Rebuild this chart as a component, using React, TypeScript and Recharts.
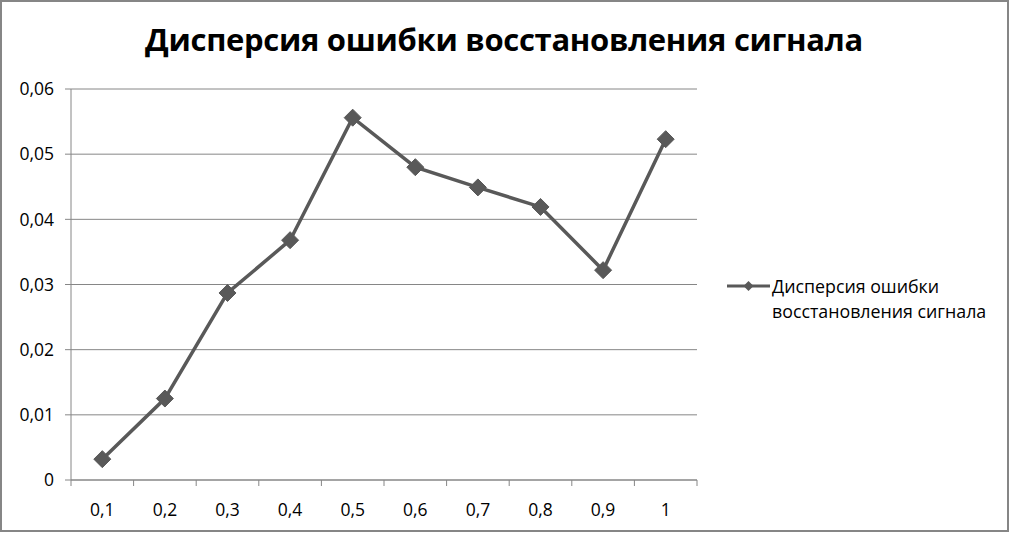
import React from "react";
import { LineChart, Line, XAxis, YAxis, CartesianGrid, Legend } from "recharts";

const categories = ["0,1", "0,2", "0,3", "0,4", "0,5", "0,6", "0,7", "0,8", "0,9", "1"];
const dispersion = [0.0032, 0.0125, 0.0287, 0.0368, 0.0556, 0.048, 0.0449, 0.0419, 0.0322, 0.0523];
const yTicks = [0, 0.01, 0.02, 0.03, 0.04, 0.05, 0.06];
const seriesName = "Дисперсия ошибки восстановления сигнала";
const titleText = "Дисперсия ошибки восстановления сигнала";
const legendLines = ["Дисперсия ошибки", "восстановления сигнала"];

const data = categories.map((c, i) => ({ cat: c, value: dispersion[i] }));

const LINE_COLOR = "#595959";
const AXIS_COLOR = "#868686";
const FONT = "'Open Sans', sans-serif";

const Diamond = (props: any) => {
  const { cx, cy } = props;
  if (cx == null || cy == null) return null;
  const r = 8.5;
  return (
    <polygon
      points={`${cx},${cy - r} ${cx + r},${cy} ${cx},${cy + r} ${cx - r},${cy}`}
      fill={LINE_COLOR}
      stroke={LINE_COLOR}
    />
  );
};

const XTick = (props: any) => {
  const { x, y, payload, index, visibleTicksCount } = props;
  const half = payload && payload.offset ? payload.offset : 31.3;
  const isLast = index === (visibleTicksCount ?? categories.length) - 1;
  const top = y - 8;
  return (
    <g>
      <line x1={x - half} y1={top} x2={x - half} y2={top + 6} stroke={AXIS_COLOR} />
      {isLast && <line x1={x + half} y1={top} x2={x + half} y2={top + 6} stroke={AXIS_COLOR} />}
      <text x={x} y={y + 28} textAnchor="middle" fill="#000" fontSize={17.5} fontFamily={FONT}>
        {payload.value}
      </text>
    </g>
  );
};

const fmtY = (v: number) => (v === 0 ? "0" : v.toFixed(2).replace(".", ","));

const LegendContent = () => (
  <div style={{ display: "flex", alignItems: "flex-start", fontFamily: FONT, fontSize: 17.8, color: "#000" }}>
    <svg width={45} height={24} style={{ flex: "none" }}>
      <line x1={0} y1={12} x2={43} y2={12} stroke={LINE_COLOR} strokeWidth={3} />
      <polygon points="21.5,7 26.5,12 21.5,17 16.5,12" fill={LINE_COLOR} />
    </svg>
    <div style={{ lineHeight: "25px", marginTop: 0, width: 240, whiteSpace: "nowrap" }}>
      {legendLines[0]}
      <br />
      {legendLines[1]}
    </div>
  </div>
);

export default function App() {
  return (
    <div
      style={{
        position: "absolute",
        left: 0,
        top: 0,
        width: 1011,
        height: 534,
        background: "#fff",
      }}
    >
      <div
        style={{
          position: "absolute",
          left: 0,
          top: 0,
          width: 1009,
          height: 532,
          border: `2px solid ${AXIS_COLOR}`,
          boxSizing: "border-box",
          pointerEvents: "none",
          zIndex: 2,
        }}
      />
      <div
        style={{
          position: "absolute",
          left: 0,
          top: 18,
          width: 1008,
          textAlign: "center",
          fontFamily: "'Open Sans', sans-serif",
          fontWeight: 700,
          fontSize: 31,
          letterSpacing: -0.3,
          color: "#000",
          zIndex: 1,
        }}
      >
        {titleText}
      </div>
      <LineChart
        width={1011}
        height={534}
        data={data}
        margin={{ top: 89, right: 314, bottom: 24, left: 0 }}
      >
        <CartesianGrid vertical={false} stroke={AXIS_COLOR} strokeWidth={1} />
        <XAxis
          dataKey="cat"
          scale="band"
          stroke={AXIS_COLOR}
          tickLine={false}
          height={30}
          tick={<XTick />}
          interval={0}
        />
        <YAxis
          width={71}
          domain={[0, 0.06]}
          ticks={yTicks}
          tickFormatter={fmtY}
          stroke={AXIS_COLOR}
          tickSize={6}
          tick={{ fill: "#000", fontSize: 17.5, fontFamily: FONT }}
          tickMargin={11}
        />
        <Legend
          layout="horizontal"
          align="center"
          verticalAlign="middle"
          content={<LegendContent />}
          wrapperStyle={{ position: "absolute", left: 727, top: 274, width: 280 }}
        />
        <Line
          name={seriesName}
          type="linear"
          dataKey="value"
          stroke={LINE_COLOR}
          strokeWidth={3.5}
          dot={<Diamond />}
          activeDot={false}
          isAnimationActive={false}
        />
      </LineChart>
    </div>
  );
}
